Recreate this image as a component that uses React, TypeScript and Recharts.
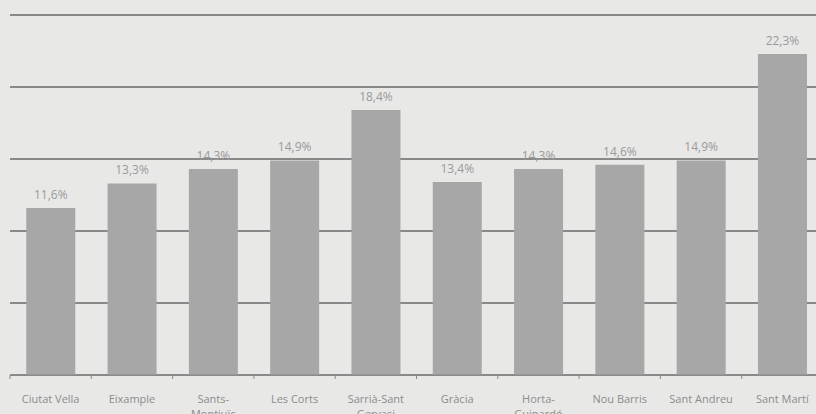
import React from "react";
import { BarChart, Bar, XAxis, YAxis, CartesianGrid, LabelList } from "recharts";

const districts = [
  "Ciutat Vella",
  "Eixample",
  "Sants-Montjuïc",
  "Les Corts",
  "Sarrià-Sant Gervasi",
  "Gràcia",
  "Horta-Guinardó",
  "Nou Barris",
  "Sant Andreu",
  "Sant Martí",
];
const values = [11.6, 13.3, 14.3, 14.9, 18.4, 13.4, 14.3, 14.6, 14.9, 22.3];
const yTicks = [0, 5, 10, 15, 20, 25];

const data = districts.map((name, i) => ({ name, value: values[i] }));

const splitLabel = (s: string): string[] => {
  const idx = s.indexOf("-");
  if (idx >= 0) {
    const first = s.slice(0, idx + 1);
    const rest = s.slice(idx + 1);
    const sp = rest.indexOf(" ");
    if (sp >= 0) {
      return [first + rest.slice(0, sp), rest.slice(sp + 1)];
    }
    return [first, rest];
  }
  return [s];
};

const Tick = (props: any) => {
  const { x, y, payload, width, visibleTicksCount } = props;
  const half = width / (2 * (visibleTicksCount || 10));
  const lines = splitLabel(String(payload.value));
  return (
    <g>
      <line x1={x - half} x2={x - half} y1={y - 8} y2={y - 4} stroke="#8a8a8a" strokeWidth={1} />
      <text
        x={x}
        y={y + 20}
        textAnchor="middle"
        fill="#8c8c8c"
        fontSize={11}
        fontFamily="'Open Sans', sans-serif"
      >
        {lines.map((l, i) => (
          <tspan key={i} x={x} dy={i === 0 ? 0 : 15}>
            {l}
          </tspan>
        ))}
      </text>
    </g>
  );
};

const fmt = (v: any) => String(v).replace(".", ",") + "%";

export default function App() {
  return (
    <div
      style={{
        position: "absolute",
        left: 0,
        top: 0,
        width: 816,
        height: 414,
        overflow: "hidden",
        background: "#e8e8e7",
      }}
    >
      <BarChart
        width={830}
        height={440}
        data={data}
        margin={{ top: 15, right: 7, left: 10, bottom: 25 }}
        barCategoryGap="20%"
      >
        <CartesianGrid vertical={false} stroke="#6a6a6a" strokeWidth={1.5} />
        <YAxis hide domain={[0, 25]} ticks={yTicks} />
        <XAxis
          dataKey="name"
          height={40}
          interval={0}
          axisLine={{ stroke: "#8a8a8a" }}
          tickLine={false}
          tick={<Tick />}
        />
        <Bar dataKey="value" fill="#a7a7a7" isAnimationActive={false}>
          <LabelList
            dataKey="value"
            position="top"
            offset={9}
            formatter={fmt}
            fill="#9a9a9a"
            fontSize={12}
            fontFamily="'Open Sans', sans-serif"
          />
        </Bar>
      </BarChart>
    </div>
  );
}
